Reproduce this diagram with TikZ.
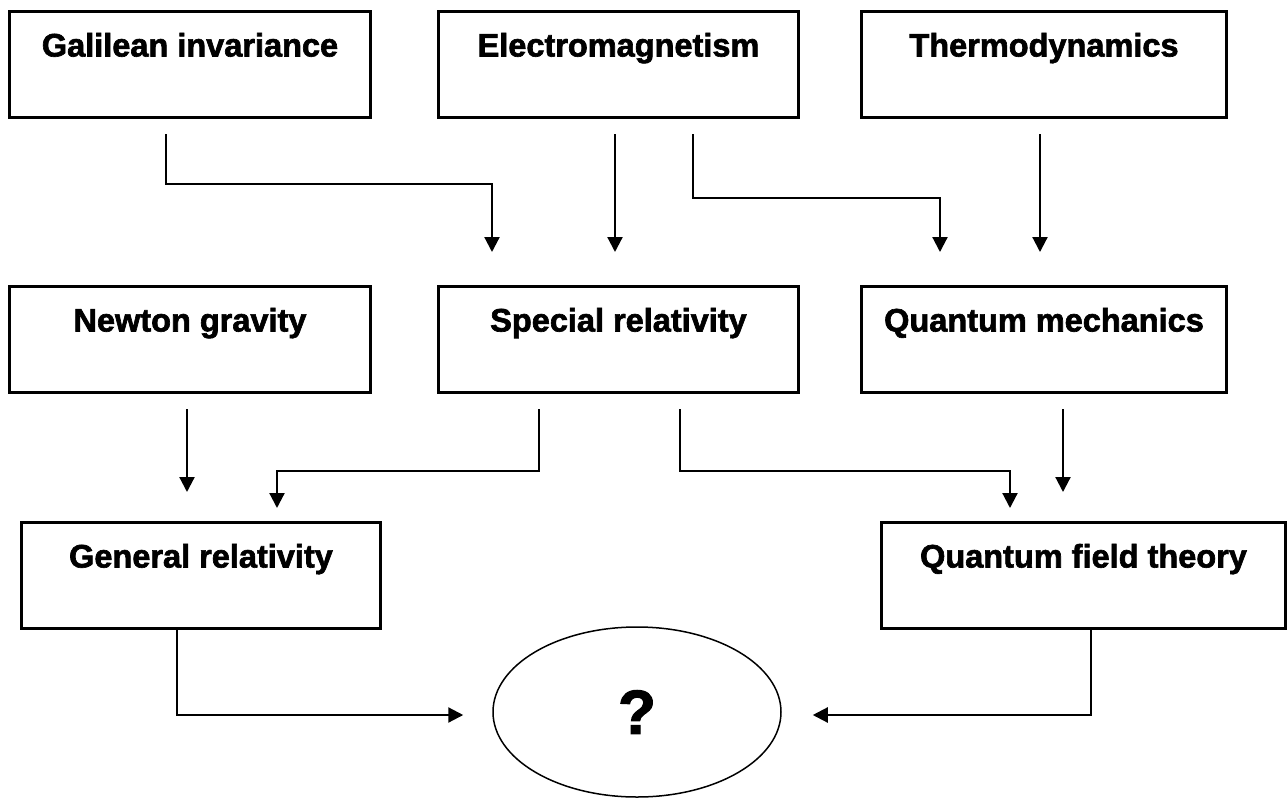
\documentclass[tikz,border=0pt]{standalone}
\usepackage{fontspec}
\setmainfont{Liberation Sans}[BoldFeatures={FakeBold=2}]
\usetikzlibrary{arrows.meta,shapes.geometric,calc}
\begin{document}
\begin{tikzpicture}[x=1pt,y=-1pt,
  box/.style={draw, line width=3pt, inner sep=0pt, anchor=north west,
    text height=45pt, text depth=61pt,
    font=\bfseries\fontsize{32.5}{36}\selectfont},
  arr/.style={-{Triangle[width=15pt,length=15pt]}, line width=2.2pt},
  ell/.style={draw, ellipse, line width=1.5pt, inner sep=0pt,
    minimum width=288pt, minimum height=170pt,
    font=\bfseries\fontsize{62}{66}\selectfont}]
\useasboundingbox (0,0) rectangle (1288,798);
% row 1
\node[box, minimum width=361pt] (gal) at (8,10) {Galilean invariance};
\node[box, minimum width=360pt] (em) at (437,10) {Electromagnetism};
\node[box, minimum width=365pt] (th) at (860,10) {Thermodynamics};
% row 2
\node[box, minimum width=361pt] (nw) at (8,285) {Newton gravity};
\node[box, minimum width=360pt] (sr) at (437,285) {Special relativity};
\node[box, minimum width=365pt] (qm) at (860,285) {Quantum mechanics};
% row 3
\node[box, minimum width=359pt] (gr) at (20,521) {General relativity};
\node[box, minimum width=404pt] (qft) at (880,521) {Quantum field theory};
% ellipse
\node[ell] (q) at (637,712) {?};
% connectors row1 -> row2
\draw[arr] ($(gal.south west)+(158,15)$) -- ++(0,50) -| ($(sr.north west)+(55,-33)$);
\draw[arr] ($(em.south west)+(178,15)$) -- ($(sr.north west)+(178,-33)$);
\draw[arr] ($(em.south west)+(256,15)$) -- ++(0,64) -| ($(qm.north west)+(80,-33)$);
\draw[arr] ($(th.south west)+(180,15)$) -- ($(qm.north west)+(180,-33)$);
% connectors row2 -> row3
\draw[arr] ($(nw.south west)+(179,15)$) -- ($(gr.north west)+(167,-29)$);
\draw[arr] ($(sr.south west)+(102,15)$) -- ++(0,62) -| ($(gr.north west)+(257,-13)$);
\draw[arr] ($(sr.south west)+(243,15)$) -- ++(0,62) -| ($(qft.north west)+(130,-13)$);
\draw[arr] ($(qm.south west)+(203,15)$) -- ($(qft.north west)+(183,-29)$);
% connectors row3 -> ellipse
\draw[arr] ($(gr.south west)+(157,0)$) |- ($(q.west)+(-29,3)$);
\draw[arr] ($(qft.south west)+(211,0)$) |- ($(q.east)+(31,3)$);
\end{tikzpicture}
\end{document}
